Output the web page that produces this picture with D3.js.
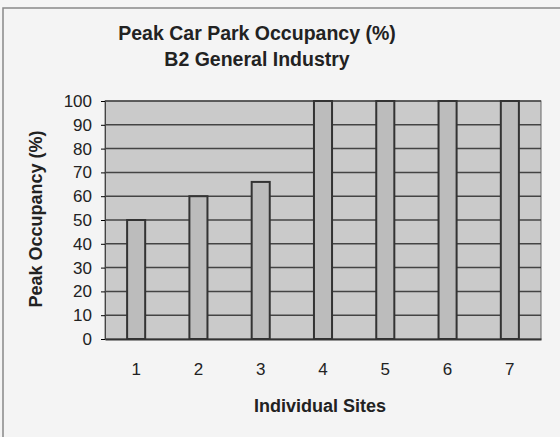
<!DOCTYPE html>
<html><head><meta charset="utf-8">
<script src="https://cdn.jsdelivr.net/npm/d3@7"></script>
<style>body{margin:0;background:#f4f4f4;}svg{display:block;font-family:"Liberation Sans",Arial,sans-serif;}</style>
</head><body>
<svg id="c" width="560" height="437"></svg>
<script>
const sites = ["1","2","3","4","5","6","7"];
const occupancy = [50, 60, 66, 100, 100, 100, 100];
const yTicks = [0,10,20,30,40,50,60,70,80,90,100];
const titleLines = ["Peak Car Park Occupancy (%)", "B2 General Industry"];
const xTitle = "Individual Sites";
const yTitle = "Peak Occupancy (%)";

const svg = d3.select("#c");
const m = {l:105, r:541, t:101, b:339};
svg.append("rect").attr("x",3).attr("y",8).attr("width",600).attr("height",440)
  .attr("fill","#f4f4f4").attr("stroke","#888").attr("stroke-width",1.5);

const x = d3.scaleBand().domain(sites).range([m.l,m.r]).paddingInner(0.71).paddingOuter(0.355);
const y = d3.scaleLinear().domain([0,100]).range([m.b,m.t]);

svg.append("rect").attr("x",m.l).attr("y",m.t).attr("width",m.r-m.l).attr("height",m.b-m.t)
  .attr("fill","#cacaca").attr("stroke","#666").attr("stroke-width",1);

svg.append("g").selectAll("line").data(yTicks.filter(d=>d>0)).join("line")
  .attr("x1",m.l).attr("x2",m.r).attr("y1",d=>y(d)).attr("y2",d=>y(d))
  .attr("stroke","#444").attr("stroke-width",1.5);

svg.append("g").selectAll("rect").data(occupancy).join("rect")
  .attr("x",(d,i)=>x(sites[i])).attr("width",x.bandwidth())
  .attr("y",d=>y(d)).attr("height",d=>y(0)-y(d))
  .attr("fill","#bcbcbc").attr("stroke","#333").attr("stroke-width",2);

const ya = svg.append("g").attr("transform",`translate(${m.l},0)`)
  .call(d3.axisLeft(y).tickValues(yTicks).tickSize(4).tickPadding(9));
ya.attr("font-size",17).attr("font-family",null);
ya.select(".domain").attr("stroke","#444");
ya.selectAll("text").attr("fill","#222");

const xa = svg.append("g").attr("transform",`translate(0,${m.b})`)
  .call(d3.axisBottom(x).tickSize(0).tickPadding(24));
xa.attr("font-size",17).attr("font-family",null);
xa.select(".domain").attr("stroke","#333").attr("stroke-width",2);
xa.selectAll("text").attr("fill","#222");

svg.append("g").selectAll("text").data(titleLines).join("text")
  .attr("x",257).attr("y",(d,i)=>40+i*26).attr("text-anchor","middle")
  .attr("font-size",19.5).attr("font-weight","bold").attr("fill","#222").text(d=>d);

svg.append("text").attr("x",320).attr("y",412).attr("text-anchor","middle")
  .attr("font-size",18).attr("font-weight","bold").attr("fill","#222").text(xTitle);

svg.append("text").attr("transform","translate(42,219) rotate(-90)").attr("text-anchor","middle")
  .attr("font-size",18).attr("font-weight","bold").attr("fill","#222").text(yTitle);
</script>
</body></html>
